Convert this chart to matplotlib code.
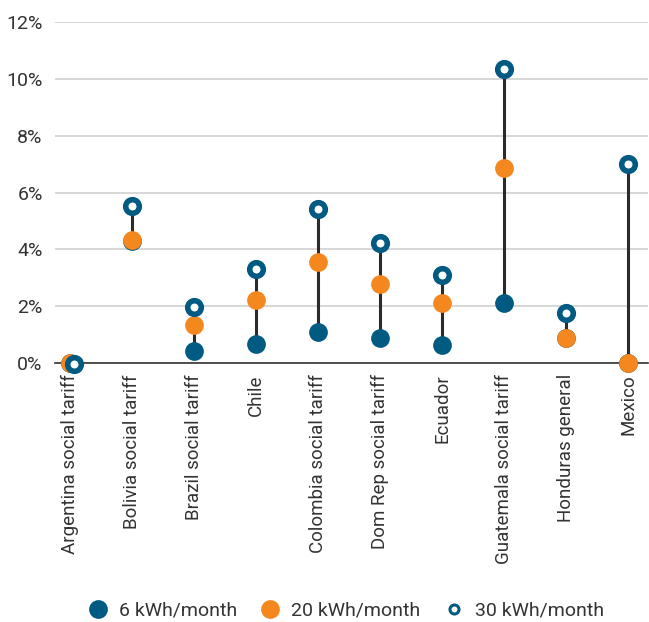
import numpy as np
import matplotlib.pyplot as plt
from matplotlib.lines import Line2D

# data (percent)
categories = ["Argentina social tariff", "Bolivia social tariff", "Brazil social tariff",
              "Chile", "Colombia social tariff", "Dom Rep social tariff", "Ecuador",
              "Guatemala social tariff", "Honduras general", "Mexico"]
kwh6 = [0.0, 4.30, 0.42, 0.67, 1.09, 0.88, 0.63, 2.11, 0.88, 0.0]
kwh20 = [0.0, 4.33, 1.34, 2.22, 3.56, 2.78, 2.11, 6.87, 0.88, 0.0]
kwh30 = [-0.05, 5.53, 1.97, 3.31, 5.42, 4.23, 3.10, 10.35, 1.76, 7.00]
yticks = [0, 2, 4, 6, 8, 10, 12]

blue = "#005a82"
orange = "#f5871f"
txt = "#333333"

plt.rcParams['font.family'] = ['Roboto', 'DejaVu Sans']

fig = plt.figure(figsize=(6.49, 6.22), dpi=100)
ax = fig.add_axes([0.085, 0.4164, 0.913, 0.5482])

x = np.arange(len(categories))
lo = np.minimum(np.minimum(kwh6, kwh20), kwh30)
hi = np.maximum(np.maximum(kwh6, kwh20), kwh30)
ax.vlines(x, lo, hi, color="#2b2b2b", lw=2.2, zorder=2)

ax.plot(x, kwh6, 'o', ms=13.5, color=blue, mec='none', zorder=3, clip_on=False)
ax.plot(x, kwh20, 'o', ms=13.5, color=orange, mec='none', zorder=4, clip_on=False)
# argentina 30 kWh marker sits slightly right of the others
x30 = x.astype(float)
x30[0] += 0.06
ax.plot(x30, kwh30, 'o', ms=9.8, mfc='white', mec=blue, mew=4, zorder=5, clip_on=False)

ax.set_xlim(-0.24, 9.31)
ax.set_ylim(0, 12)
ax.set_yticks(yticks)
ax.set_yticklabels([f"{v}%" for v in yticks], fontsize=14, color=txt)
ax.set_xticks(x)
ax.set_xticklabels(categories, rotation=90, fontsize=13.5, color=txt)
ax.tick_params(length=0)
ax.tick_params(axis='y', pad=9)
ax.tick_params(axis='x', pad=8)
ax.grid(axis='y', color='#d4d4d4', lw=1.3, zorder=0)
ax.set_axisbelow(True)
for s in ['top', 'right', 'left']:
    ax.spines[s].set_visible(False)
ax.spines['bottom'].set_color('#333333')
ax.spines['bottom'].set_linewidth(1.2)

handles = [
    Line2D([], [], marker='o', ls='none', ms=13.5, color=blue, mec='none'),
    Line2D([], [], marker='o', ls='none', ms=13.5, color=orange, mec='none'),
    Line2D([], [], marker='o', ls='none', ms=6.5, mfc='white', mec=blue, mew=2.2),
]
fig.legend(handles, ["6 kWh/month", "20 kWh/month", "30 kWh/month"],
           loc='center', bbox_to_anchor=(0.53, 0.018), ncol=3, frameon=False,
           fontsize=14, labelcolor=txt, handletextpad=0.4, columnspacing=1.0,
           handlelength=1.4)

fig.savefig("out.png", dpi=100)
